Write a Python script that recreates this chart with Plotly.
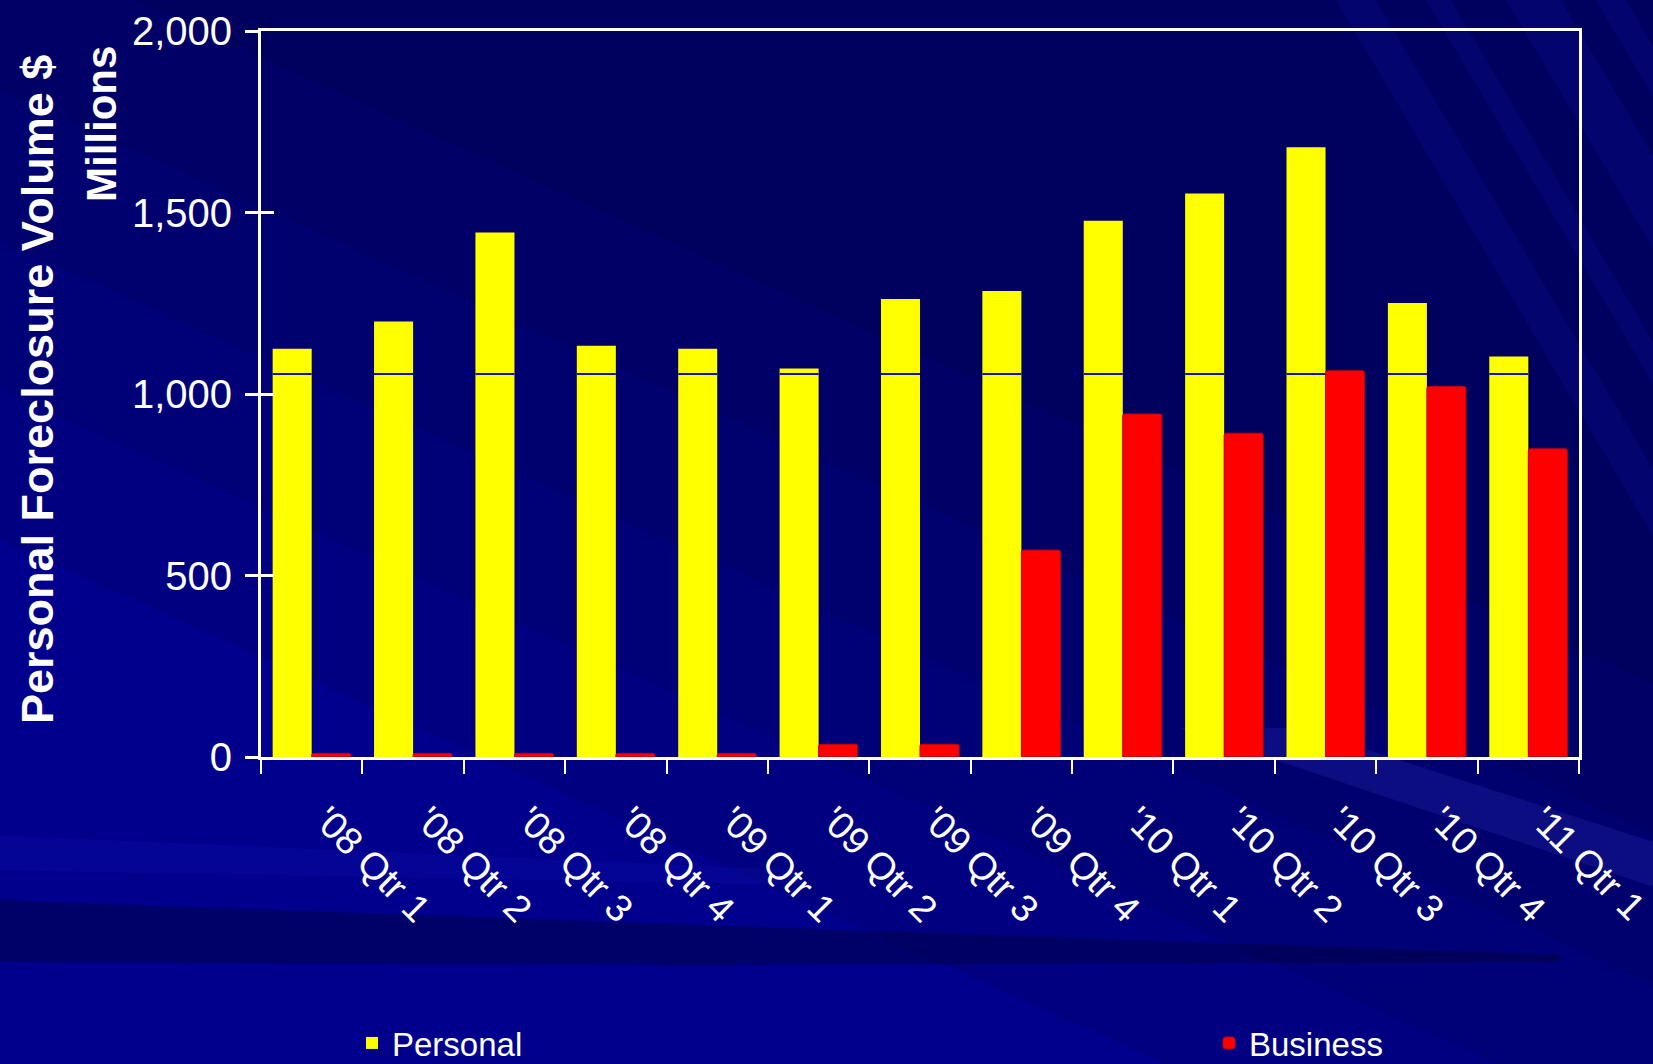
import plotly.graph_objects as go

# ---- data -------------------------------------------------------------
quarters = ["'08 Qtr 1", "'08 Qtr 2", "'08 Qtr 3", "'08 Qtr 4",
            "'09 Qtr 1", "'09 Qtr 2", "'09 Qtr 3", "'09 Qtr 4",
            "'10 Qtr 1", "'10 Qtr 2", "'10 Qtr 3", "'10 Qtr 4",
            "'11 Qtr 1"]
personal = [1125, 1200, 1445, 1133, 1125, 1070, 1262, 1284,
            1477, 1552, 1680, 1251, 1103]
business = [10, 10, 10, 10, 10, 35, 35, 570,
            945, 892, 1064, 1021, 849]
reference_level = 1055
y_ticks = [0, 500, 1000, 1500, 2000]
y_tick_labels = ["0", "500", "1,000", "1,500", "2,000"]

# ---- figure geometry (pixels) -------------------------------------------
W, H = 1653, 1064
L, R, T, B = 261, 1579, 31, 757          # plot-area edges
PW, PH = R - L, B - T
Y_MAX = 2000

FONT = "Liberation Sans Narrow, Arial Narrow, Liberation Sans, Arial, sans-serif"


def P(x, y):
    """figure pixel -> paper coordinates"""
    return (x - L) / PW, (B - y) / PH


def poly(points):
    pts = [P(x, y) for x, y in points]
    return "M " + " L ".join(f"{a:.4f},{b:.4f}" for a, b in pts) + " Z"


n = len(quarters)
idx = list(range(n))
bw = 0.385
boundaries = [i - 0.5 for i in range(n + 1)]

# thin rule at the reference level, shown only across the Personal bars
rule_px = 2
rule_units = rule_px * Y_MAX / PH
rule_heights = [rule_units if p > reference_level else 0 for p in personal]

fig = go.Figure()

fig.add_trace(go.Bar(
    name="Personal", x=idx, y=personal, xaxis="x", yaxis="y", legend="legend",
    width=bw, offset=-bw, marker=dict(color="#FFFF00", line=dict(width=0)),
))
fig.add_trace(go.Bar(
    x=idx, y=rule_heights, base=reference_level - rule_units / 2,
    xaxis="x", yaxis="y", width=bw, offset=-bw, showlegend=False,
    hoverinfo="skip", marker=dict(color="#1414A0", line=dict(width=0)),
))
fig.add_trace(go.Bar(
    name="Business", x=idx, y=business, xaxis="x2", yaxis="y2", legend="legend2",
    width=bw, offset=0,
    marker=dict(color="#FF0000", line=dict(color="#C00010", width=1), cornerradius=2),
))

# ---- background: navy with diagonal banding ------------------------------
shapes = []
slope = 0.45
for c in [-60, 90, 240, 390, 540]:
    shapes.append(dict(
        type="path", xref="paper", yref="paper", layer="below",
        path=poly([(-20, -20), (W + 20, -20), (W + 20, slope * (W + 20) + c),
                   (-20, -20 * slope + c)]),
        fillcolor="rgba(0,0,20,0.09)", line=dict(width=0)))
# steep light streaks at the upper right
for x0, wdt in [(1330, 40), (1420, 25), (1500, 55), (1590, 30)]:
    shapes.append(dict(
        type="path", xref="paper", yref="paper", layer="below",
        path=poly([(x0, -10), (x0 + wdt, -10), (x0 + wdt + 420, 700), (x0 + 420, 700)]),
        fillcolor="rgba(40,40,255,0.10)", line=dict(width=0)))
# soft light beam at lower right
shapes.append(dict(
    type="path", xref="paper", yref="paper", layer="below",
    path=poly([(1180, 728), (1300, 728), (W + 10, 845), (W + 10, 890)]),
    fillcolor="rgba(90,90,255,0.14)", line=dict(width=0)))
# dark sweep below the category labels
shapes.append(dict(
    type="path", xref="paper", yref="paper", layer="below",
    path=poly([(-10, 900), (700, 925), (1560, 955), (1560, 962), (700, 965), (-10, 962)]),
    fillcolor="rgba(0,0,40,0.35)", line=dict(width=0)))
shapes.append(dict(
    type="path", xref="paper", yref="paper", layer="below",
    path=poly([(-10, 835), (800, 870), (800, 885), (-10, 870)]),
    fillcolor="rgba(60,60,255,0.08)", line=dict(width=0)))

ax_common = dict(showgrid=False, zeroline=False)
legend_common = dict(orientation="h", xanchor="left", yanchor="middle",
                     font=dict(family=FONT, size=33, color="white"),
                     bgcolor="rgba(0,0,0,0)")

fig.update_layout(
    width=W, height=H,
    margin=dict(l=L, r=W - R, t=T, b=H - B, autoexpand=False),
    paper_bgcolor="#00008C", plot_bgcolor="rgba(0,0,0,0)",
    font=dict(family=FONT, color="white"),
    showlegend=True, barmode="overlay",
    legend=dict(**legend_common, x=P(352, 0)[0], y=P(0, 1043)[1]),
    legend2=dict(**legend_common, x=P(1209, 0)[0], y=P(0, 1043)[1]),
    xaxis=dict(**ax_common, range=[boundaries[0], boundaries[-1]],
               tickmode="array", tickvals=boundaries, ticktext=[""] * len(boundaries),
               ticks="outside", ticklen=14, tickwidth=2, tickcolor="white",
               showline=True, linecolor="white", linewidth=3, mirror=True),
    xaxis2=dict(**ax_common, overlaying="x", range=[boundaries[0], boundaries[-1]],
                tickmode="array", tickvals=idx, ticktext=quarters, ticks="",
                showline=False, tickangle=45, side="bottom",
                tickfont=dict(family=FONT, size=38, color="white"),
                ticklabelstandoff=32, ticklabelshift=14, ticklabeloverflow="allow"),
    yaxis=dict(**ax_common, range=[0, Y_MAX], tickmode="array",
               tickvals=y_ticks, ticktext=y_tick_labels,
               ticks="outside", ticklen=13, tickwidth=3, tickcolor="white",
               showline=True, linecolor="white", linewidth=3, mirror=True,
               ticklabelstandoff=5,
               tickfont=dict(family=FONT, size=40, color="white")),
    yaxis2=dict(**ax_common, overlaying="y", range=[0, Y_MAX], tickmode="array",
                tickvals=y_ticks, ticks="inside", ticklen=13, tickwidth=3,
                tickcolor="white", showticklabels=False, showline=False),
    shapes=shapes,
    annotations=[
        dict(text="<b>Personal Foreclosure Volume $</b>", textangle=-90,
             xref="paper", yref="paper", x=P(37, 0)[0], y=P(0, 390)[1],
             xanchor="center", yanchor="middle", showarrow=False,
             font=dict(family=FONT, size=45, color="white")),
        dict(text="<b>Millions</b>", textangle=-90,
             xref="paper", yref="paper", x=P(101, 0)[0], y=P(0, 124)[1],
             xanchor="center", yanchor="middle", showarrow=False,
             font=dict(family=FONT, size=42, color="white")),
    ],
)

fig.write_html("out.html")
